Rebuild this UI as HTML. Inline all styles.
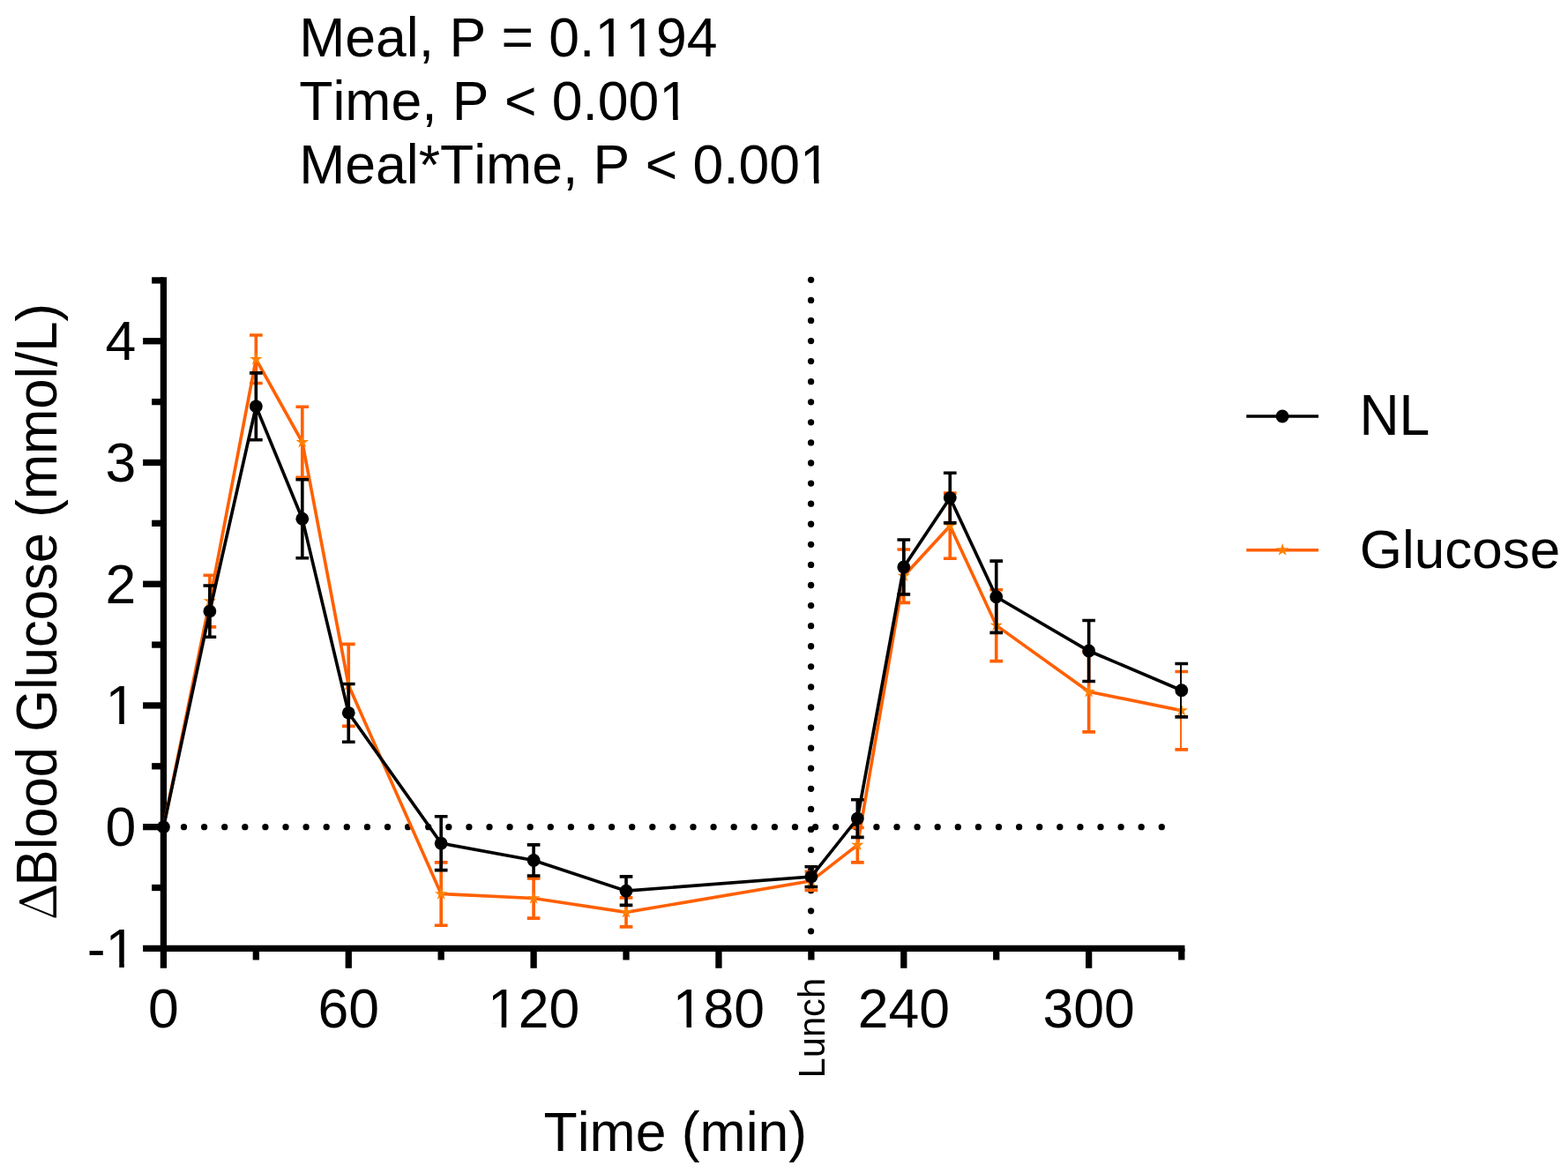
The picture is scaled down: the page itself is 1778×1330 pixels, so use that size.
<!DOCTYPE html>
<html lang="en"><head><meta charset="utf-8"><title>Blood glucose over time</title>
<style>html,body{margin:0;padding:0;background:#fff}body{width:1778px;height:1330px;overflow:hidden}svg{display:block}</style>
</head><body>
<svg width="1778" height="1330" viewBox="0 0 1778 1330">
<rect width="1778" height="1330" fill="#fff"/>
<g fill="#000000">
<circle cx="185.40" cy="937.65" r="3.65"/>
<circle cx="208.50" cy="937.65" r="3.65"/>
<circle cx="231.60" cy="937.65" r="3.65"/>
<circle cx="254.70" cy="937.65" r="3.65"/>
<circle cx="277.80" cy="937.65" r="3.65"/>
<circle cx="300.90" cy="937.65" r="3.65"/>
<circle cx="324.00" cy="937.65" r="3.65"/>
<circle cx="347.10" cy="937.65" r="3.65"/>
<circle cx="370.20" cy="937.65" r="3.65"/>
<circle cx="393.30" cy="937.65" r="3.65"/>
<circle cx="416.40" cy="937.65" r="3.65"/>
<circle cx="439.50" cy="937.65" r="3.65"/>
<circle cx="462.60" cy="937.65" r="3.65"/>
<circle cx="485.70" cy="937.65" r="3.65"/>
<circle cx="508.80" cy="937.65" r="3.65"/>
<circle cx="531.90" cy="937.65" r="3.65"/>
<circle cx="555.00" cy="937.65" r="3.65"/>
<circle cx="578.10" cy="937.65" r="3.65"/>
<circle cx="601.20" cy="937.65" r="3.65"/>
<circle cx="624.30" cy="937.65" r="3.65"/>
<circle cx="647.40" cy="937.65" r="3.65"/>
<circle cx="670.50" cy="937.65" r="3.65"/>
<circle cx="693.60" cy="937.65" r="3.65"/>
<circle cx="716.70" cy="937.65" r="3.65"/>
<circle cx="739.80" cy="937.65" r="3.65"/>
<circle cx="762.90" cy="937.65" r="3.65"/>
<circle cx="786.00" cy="937.65" r="3.65"/>
<circle cx="809.10" cy="937.65" r="3.65"/>
<circle cx="832.20" cy="937.65" r="3.65"/>
<circle cx="855.30" cy="937.65" r="3.65"/>
<circle cx="878.40" cy="937.65" r="3.65"/>
<circle cx="901.50" cy="937.65" r="3.65"/>
<circle cx="924.60" cy="937.65" r="3.65"/>
<circle cx="947.70" cy="937.65" r="3.65"/>
<circle cx="970.80" cy="937.65" r="3.65"/>
<circle cx="993.90" cy="937.65" r="3.65"/>
<circle cx="1017.00" cy="937.65" r="3.65"/>
<circle cx="1040.10" cy="937.65" r="3.65"/>
<circle cx="1063.20" cy="937.65" r="3.65"/>
<circle cx="1086.30" cy="937.65" r="3.65"/>
<circle cx="1109.40" cy="937.65" r="3.65"/>
<circle cx="1132.50" cy="937.65" r="3.65"/>
<circle cx="1155.60" cy="937.65" r="3.65"/>
<circle cx="1178.70" cy="937.65" r="3.65"/>
<circle cx="1201.80" cy="937.65" r="3.65"/>
<circle cx="1224.90" cy="937.65" r="3.65"/>
<circle cx="1248.00" cy="937.65" r="3.65"/>
<circle cx="1271.10" cy="937.65" r="3.65"/>
<circle cx="1294.20" cy="937.65" r="3.65"/>
<circle cx="1317.30" cy="937.65" r="3.65"/>
<circle cx="919.60" cy="317.30" r="3.65"/>
<circle cx="919.60" cy="340.38" r="3.65"/>
<circle cx="919.60" cy="363.46" r="3.65"/>
<circle cx="919.60" cy="386.54" r="3.65"/>
<circle cx="919.60" cy="409.62" r="3.65"/>
<circle cx="919.60" cy="432.70" r="3.65"/>
<circle cx="919.60" cy="455.78" r="3.65"/>
<circle cx="919.60" cy="478.86" r="3.65"/>
<circle cx="919.60" cy="501.94" r="3.65"/>
<circle cx="919.60" cy="525.02" r="3.65"/>
<circle cx="919.60" cy="548.10" r="3.65"/>
<circle cx="919.60" cy="571.18" r="3.65"/>
<circle cx="919.60" cy="594.26" r="3.65"/>
<circle cx="919.60" cy="617.34" r="3.65"/>
<circle cx="919.60" cy="640.42" r="3.65"/>
<circle cx="919.60" cy="663.50" r="3.65"/>
<circle cx="919.60" cy="686.58" r="3.65"/>
<circle cx="919.60" cy="709.66" r="3.65"/>
<circle cx="919.60" cy="732.74" r="3.65"/>
<circle cx="919.60" cy="755.82" r="3.65"/>
<circle cx="919.60" cy="778.90" r="3.65"/>
<circle cx="919.60" cy="801.98" r="3.65"/>
<circle cx="919.60" cy="825.06" r="3.65"/>
<circle cx="919.60" cy="848.14" r="3.65"/>
<circle cx="919.60" cy="871.22" r="3.65"/>
<circle cx="919.60" cy="894.30" r="3.65"/>
<circle cx="919.60" cy="917.38" r="3.65"/>
<circle cx="919.60" cy="940.46" r="3.65"/>
<circle cx="919.60" cy="963.54" r="3.65"/>
<circle cx="919.60" cy="986.62" r="3.65"/>
<circle cx="919.60" cy="1009.70" r="3.65"/>
<circle cx="919.60" cy="1032.78" r="3.65"/>
<circle cx="919.60" cy="1055.86" r="3.65"/>
</g>
<g stroke="#000000" stroke-width="7.3" fill="none" stroke-linecap="butt">
<path d="M185.40 314.26V1097.77"/>
<path d="M162.10 1075.37H1343.43"/>
<path d="M172.10 1006.51H185.40"/>
<path d="M162.10 937.65H185.40"/>
<path d="M172.10 868.79H185.40"/>
<path d="M162.10 799.93H185.40"/>
<path d="M172.10 731.07H185.40"/>
<path d="M162.10 662.21H185.40"/>
<path d="M172.10 593.35H185.40"/>
<path d="M162.10 524.49H185.40"/>
<path d="M172.10 455.63H185.40"/>
<path d="M162.10 386.77H185.40"/>
<path d="M172.10 317.91H185.40"/>
<path d="M290.32 1075.37V1088.47"/>
<path d="M395.25 1075.37V1097.77"/>
<path d="M500.17 1075.37V1088.47"/>
<path d="M605.10 1075.37V1097.77"/>
<path d="M710.02 1075.37V1088.47"/>
<path d="M814.95 1075.37V1097.77"/>
<path d="M919.88 1075.37V1088.47"/>
<path d="M1024.80 1075.37V1097.77"/>
<path d="M1129.73 1075.37V1088.47"/>
<path d="M1234.65 1075.37V1097.77"/>
<path d="M1339.78 1075.37V1088.47"/>
</g>
<g stroke="#FF6000" fill="none" stroke-width="3.65" stroke-linejoin="miter">
<path d="M185.40 937.65 L237.86 681.55 L290.32 407.25 L342.79 501.30 L395.25 776.90 L500.17 1013.50 L605.10 1018.50 L710.02 1034.40 L919.88 998.85 L972.34 958.10 L1024.80 653.20 L1077.26 596.15 L1129.73 709.15 L1234.65 784.30 L1339.78 805.65"/>
<path d="M237.86 652.20V710.90" stroke-width="3.65"/>
<path d="M230.51 652.20H245.21M230.51 710.90H245.21"/>
<path d="M290.32 380.00V434.50" stroke-width="3.65"/>
<path d="M282.97 380.00H297.68M282.97 434.50H297.68"/>
<path d="M342.79 461.20V541.40" stroke-width="3.65"/>
<path d="M335.44 461.20H350.14M335.44 541.40H350.14"/>
<path d="M395.25 730.40V823.40" stroke-width="3.65"/>
<path d="M387.90 730.40H402.60M387.90 823.40H402.60"/>
<path d="M500.17 977.80V1049.20" stroke-width="3.65"/>
<path d="M492.82 977.80H507.52M492.82 1049.20H507.52"/>
<path d="M605.10 995.90V1041.10" stroke-width="3.65"/>
<path d="M597.75 995.90H612.45M597.75 1041.10H612.45"/>
<path d="M710.02 1017.90V1050.90" stroke-width="3.65"/>
<path d="M702.67 1017.90H717.38M702.67 1050.90H717.38"/>
<path d="M919.88 988.30V1009.40" stroke-width="3.65"/>
<path d="M912.52 988.30H927.23M912.52 1009.40H927.23"/>
<path d="M972.34 938.40V977.80" stroke-width="3.65"/>
<path d="M964.99 938.40H979.69M964.99 977.80H979.69"/>
<path d="M1024.80 623.00V683.40" stroke-width="3.65"/>
<path d="M1017.45 623.00H1032.15M1017.45 683.40H1032.15"/>
<path d="M1077.26 559.10V633.20" stroke-width="3.65"/>
<path d="M1069.91 559.10H1084.61M1069.91 633.20H1084.61"/>
<path d="M1129.73 668.70V749.60" stroke-width="3.65"/>
<path d="M1122.38 668.70H1137.08M1122.38 749.60H1137.08"/>
<path d="M1234.65 738.80V829.80" stroke-width="3.65"/>
<path d="M1227.30 738.80H1242.00M1227.30 829.80H1242.00"/>
<path d="M1339.03 761.50V849.80" stroke-width="1.9"/>
<path d="M1332.43 761.50H1347.12M1332.43 849.80H1347.12"/>
</g>
<polygon points="185.40,930.05 187.11,935.30 192.63,935.30 188.16,938.55 189.87,943.80 185.40,940.55 180.93,943.80 182.64,938.55 178.17,935.30 183.69,935.30" fill="#FF8000"/>
<polygon points="237.86,673.95 239.57,679.20 245.09,679.20 240.62,682.45 242.33,687.70 237.86,684.45 233.40,687.70 235.10,682.45 230.63,679.20 236.16,679.20" fill="#FF8000"/>
<polygon points="290.32,399.65 292.03,404.90 297.55,404.90 293.09,408.15 294.79,413.40 290.32,410.15 285.86,413.40 287.56,408.15 283.10,404.90 288.62,404.90" fill="#FF8000"/>
<polygon points="342.79,493.70 344.49,498.95 350.02,498.95 345.55,502.20 347.25,507.45 342.79,504.20 338.32,507.45 340.03,502.20 335.56,498.95 341.08,498.95" fill="#FF8000"/>
<polygon points="395.25,769.30 396.96,774.55 402.48,774.55 398.01,777.80 399.72,783.05 395.25,779.80 390.78,783.05 392.49,777.80 388.02,774.55 393.54,774.55" fill="#FF8000"/>
<polygon points="500.17,1005.90 501.88,1011.15 507.40,1011.15 502.94,1014.40 504.64,1019.65 500.17,1016.40 495.71,1019.65 497.41,1014.40 492.95,1011.15 498.47,1011.15" fill="#FF8000"/>
<polygon points="605.10,1010.90 606.81,1016.15 612.33,1016.15 607.86,1019.40 609.57,1024.65 605.10,1021.40 600.63,1024.65 602.34,1019.40 597.87,1016.15 603.39,1016.15" fill="#FF8000"/>
<polygon points="710.02,1026.80 711.73,1032.05 717.25,1032.05 712.79,1035.30 714.49,1040.55 710.02,1037.30 705.56,1040.55 707.26,1035.30 702.80,1032.05 708.32,1032.05" fill="#FF8000"/>
<polygon points="919.88,991.25 921.58,996.50 927.10,996.50 922.64,999.75 924.34,1005.00 919.88,1001.75 915.41,1005.00 917.11,999.75 912.65,996.50 918.17,996.50" fill="#FF8000"/>
<polygon points="972.34,950.50 974.04,955.75 979.57,955.75 975.10,959.00 976.80,964.25 972.34,961.00 967.87,964.25 969.58,959.00 965.11,955.75 970.63,955.75" fill="#FF8000"/>
<polygon points="1024.80,645.60 1026.51,650.85 1032.03,650.85 1027.56,654.10 1029.27,659.35 1024.80,656.10 1020.33,659.35 1022.04,654.10 1017.57,650.85 1023.09,650.85" fill="#FF8000"/>
<polygon points="1077.26,588.55 1078.97,593.80 1084.49,593.80 1080.02,597.05 1081.73,602.30 1077.26,599.05 1072.80,602.30 1074.50,597.05 1070.03,593.80 1075.56,593.80" fill="#FF8000"/>
<polygon points="1129.73,701.55 1131.43,706.80 1136.95,706.80 1132.49,710.05 1134.19,715.30 1129.73,712.05 1125.26,715.30 1126.96,710.05 1122.50,706.80 1128.02,706.80" fill="#FF8000"/>
<polygon points="1234.65,776.70 1236.36,781.95 1241.88,781.95 1237.41,785.20 1239.12,790.45 1234.65,787.20 1230.18,790.45 1231.89,785.20 1227.42,781.95 1232.94,781.95" fill="#FF8000"/>
<polygon points="1339.78,798.05 1341.48,803.30 1347.00,803.30 1342.54,806.55 1344.24,811.80 1339.78,808.55 1335.31,811.80 1337.01,806.55 1332.55,803.30 1338.07,803.30" fill="#FF8000"/>
<g stroke="#000000" fill="none" stroke-width="3.65" stroke-linejoin="miter">
<path d="M185.40 937.65 L237.86 693.10 L290.32 460.80 L342.79 588.20 L395.25 808.35 L500.17 956.15 L605.10 975.40 L710.02 1010.15 L919.88 994.10 L972.34 928.05 L1024.80 642.90 L1077.26 564.55 L1129.73 676.75 L1234.65 738.00 L1339.78 782.70"/>
<path d="M237.86 664.00V722.20" stroke-width="3.65"/>
<path d="M230.51 664.00H245.21M230.51 722.20H245.21"/>
<path d="M290.32 422.90V498.70" stroke-width="3.65"/>
<path d="M282.97 422.90H297.68M282.97 498.70H297.68"/>
<path d="M342.79 543.70V632.70" stroke-width="3.65"/>
<path d="M335.44 543.70H350.14M335.44 632.70H350.14"/>
<path d="M395.25 775.50V841.20" stroke-width="3.65"/>
<path d="M387.90 775.50H402.60M387.90 841.20H402.60"/>
<path d="M500.17 925.70V986.60" stroke-width="3.65"/>
<path d="M492.82 925.70H507.52M492.82 986.60H507.52"/>
<path d="M605.10 957.80V993.00" stroke-width="3.65"/>
<path d="M597.75 957.80H612.45M597.75 993.00H612.45"/>
<path d="M710.02 993.90V1026.40" stroke-width="3.65"/>
<path d="M702.67 993.90H717.38M702.67 1026.40H717.38"/>
<path d="M919.88 982.70V1005.50" stroke-width="3.65"/>
<path d="M912.52 982.70H927.23M912.52 1005.50H927.23"/>
<path d="M972.34 906.70V949.40" stroke-width="3.65"/>
<path d="M964.99 906.70H979.69M964.99 949.40H979.69"/>
<path d="M1024.80 612.00V673.80" stroke-width="3.65"/>
<path d="M1017.45 612.00H1032.15M1017.45 673.80H1032.15"/>
<path d="M1077.26 536.20V592.90" stroke-width="3.65"/>
<path d="M1069.91 536.20H1084.61M1069.91 592.90H1084.61"/>
<path d="M1129.73 636.10V717.40" stroke-width="3.65"/>
<path d="M1122.38 636.10H1137.08M1122.38 717.40H1137.08"/>
<path d="M1234.65 703.50V772.50" stroke-width="3.65"/>
<path d="M1227.30 703.50H1242.00M1227.30 772.50H1242.00"/>
<path d="M1339.03 752.50V812.90" stroke-width="1.9"/>
<path d="M1332.43 752.50H1347.12M1332.43 812.90H1347.12"/>
</g>
<circle cx="185.40" cy="937.65" r="7.4" fill="#000000"/>
<circle cx="237.86" cy="693.10" r="7.4" fill="#000000"/>
<circle cx="290.32" cy="460.80" r="7.4" fill="#000000"/>
<circle cx="342.79" cy="588.20" r="7.4" fill="#000000"/>
<circle cx="395.25" cy="808.35" r="7.4" fill="#000000"/>
<circle cx="500.17" cy="956.15" r="7.4" fill="#000000"/>
<circle cx="605.10" cy="975.40" r="7.4" fill="#000000"/>
<circle cx="710.02" cy="1010.15" r="7.4" fill="#000000"/>
<circle cx="919.88" cy="994.10" r="7.4" fill="#000000"/>
<circle cx="972.34" cy="928.05" r="7.4" fill="#000000"/>
<circle cx="1024.80" cy="642.90" r="7.4" fill="#000000"/>
<circle cx="1077.26" cy="564.55" r="7.4" fill="#000000"/>
<circle cx="1129.73" cy="676.75" r="7.4" fill="#000000"/>
<circle cx="1234.65" cy="738.00" r="7.4" fill="#000000"/>
<circle cx="1339.78" cy="782.70" r="7.4" fill="#000000"/>
<path d="M1413.3 472H1495.1" stroke="#000000" stroke-width="3.65"/><circle cx="1454.10" cy="472.00" r="7.4" fill="#000000"/>
<path d="M1413.3 623.7H1495.1" stroke="#FF6000" stroke-width="3.65"/><polygon points="1454.20,616.00 1455.91,621.25 1461.43,621.25 1456.96,624.50 1458.67,629.75 1454.20,626.50 1449.73,629.75 1451.44,624.50 1446.97,621.25 1452.49,621.25" fill="#FF8000"/>
<g font-family='"Liberation Sans", sans-serif' fill="#000000" style="font-kerning:none">
<text transform="translate(339.30 64.00) scale(1 1.012)" font-size="62.5">Meal, P = 0.1194</text>
<text transform="translate(339.30 136.20) scale(1 1.012)" font-size="62.5">Time, P &lt; 0.001</text>
<text transform="translate(339.30 208.10) scale(1 1.012)" font-size="62.5">Meal*Time, P &lt; 0.001</text>
<text transform="translate(154.30 408.17) scale(1 1.02)" x="-34.76" font-size="62.5">4</text>
<text transform="translate(154.30 545.89) scale(1 1.02)" x="-34.76" font-size="62.5">3</text>
<text transform="translate(154.30 683.61) scale(1 1.02)" x="-34.76" font-size="62.5">2</text>
<text transform="translate(154.30 821.33) scale(1 1.02)" x="-34.76" font-size="62.5">1</text>
<text transform="translate(154.30 959.05) scale(1 1.02)" x="-34.76" font-size="62.5">0</text>
<text transform="translate(154.30 1096.77) scale(1 1.02)" x="-55.57" font-size="62.5">-1</text>
<text transform="translate(185.40 1165.40) scale(1 1.02)" x="-17.38" font-size="62.5">0</text>
<text transform="translate(395.25 1165.40) scale(1 1.02)" x="-34.76" font-size="62.5">60</text>
<text transform="translate(605.10 1165.40) scale(1 1.02)" x="-52.14" font-size="62.5">120</text>
<text transform="translate(814.95 1165.40) scale(1 1.02)" x="-52.14" font-size="62.5">180</text>
<text transform="translate(1024.80 1165.40) scale(1 1.02)" x="-52.14" font-size="62.5">240</text>
<text transform="translate(1234.65 1165.40) scale(1 1.02)" x="-52.14" font-size="62.5">300</text>
<text transform="translate(765.80 1305.20) scale(1 1.0)" x="-149.29" font-size="62.5">Time (min)</text>
<text transform="translate(64.00 1043.54) rotate(-90) scale(1 0.9346)" font-size="61.22" font-family='"Noto Serif CJK SC", "Liberation Serif", serif'>Δ</text><text transform="translate(64.00 1004.45) rotate(-90) scale(1 1.04)" font-size="61.6">Blood Glucose (mmol/L)</text>
<text transform="translate(934.80 1108.90) rotate(-90) scale(1 1.03)" x="-113.53" font-size="41.67">Lunch</text>
<text transform="translate(1541.40 492.50) scale(1 1.04)" font-size="62.5">NL</text>
<text transform="translate(1541.80 644.20) scale(1 1.0)" font-size="62.0">Glucose</text>
</g>
<g fill="#fff"><rect x="678.50" y="58.67" width="11.76" height="6.13"/><rect x="695.78" y="58.67" width="11.27" height="6.13"/><rect x="713.26" y="58.67" width="11.76" height="6.13"/><rect x="730.54" y="58.67" width="11.27" height="6.13"/><rect x="751.43" y="130.87" width="11.76" height="6.13"/><rect x="768.71" y="130.87" width="11.27" height="6.13"/><rect x="911.22" y="202.77" width="11.76" height="6.13"/><rect x="928.50" y="202.77" width="11.27" height="6.13"/><rect x="123.50" y="815.97" width="11.76" height="6.16"/><rect x="140.78" y="815.97" width="11.27" height="6.16"/><rect x="123.50" y="1091.41" width="11.76" height="6.16"/><rect x="140.78" y="1091.41" width="11.27" height="6.16"/><rect x="556.92" y="1160.04" width="11.76" height="6.16"/><rect x="574.20" y="1160.04" width="11.27" height="6.16"/><rect x="766.77" y="1160.04" width="11.76" height="6.16"/><rect x="784.05" y="1160.04" width="11.27" height="6.16"/></g>
</svg>
</body></html>
